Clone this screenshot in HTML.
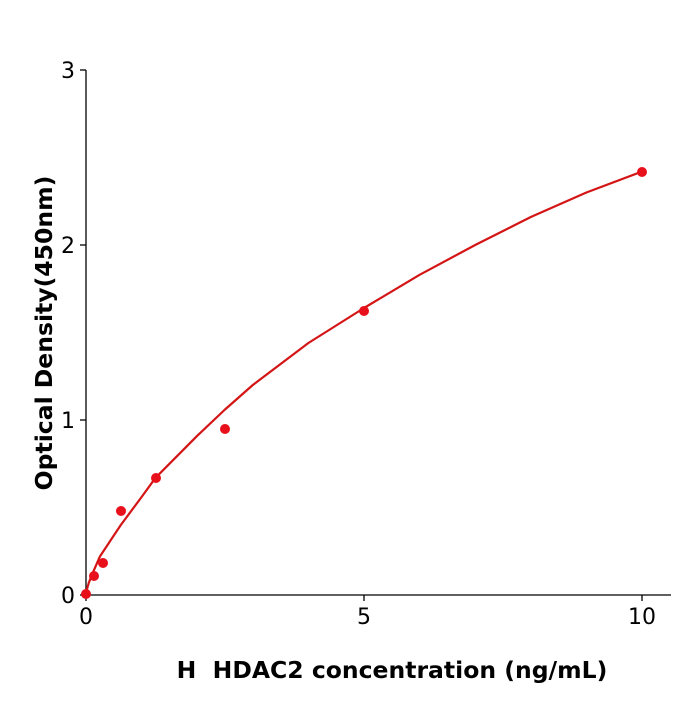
<!DOCTYPE html>
<html><head><style>body{margin:0;background:#fff}</style></head><body>
<svg width="700" height="700" xmlns="http://www.w3.org/2000/svg" font-family="'DejaVu Sans','Liberation Sans',sans-serif">
<rect width="700" height="700" fill="#fff"/>
<g stroke="#000" stroke-width="1.3" fill="none">
<line x1="86" y1="70" x2="86" y2="595"/>
<line x1="86" y1="595" x2="671" y2="595"/>
<line x1="80" y1="595" x2="86" y2="595"/>
<line x1="80" y1="420" x2="86" y2="420"/>
<line x1="80" y1="245" x2="86" y2="245"/>
<line x1="80" y1="70" x2="86" y2="70"/>
<line x1="86" y1="595" x2="86" y2="601"/>
<line x1="364" y1="595" x2="364" y2="601"/>
<line x1="642" y1="595" x2="642" y2="601"/>
</g>
<g font-size="22" fill="#000">
<text x="75" y="603" text-anchor="end">0</text>
<text x="75" y="428" text-anchor="end">1</text>
<text x="75" y="253" text-anchor="end">2</text>
<text x="75" y="78" text-anchor="end">3</text>
<text x="86" y="624" text-anchor="middle">0</text>
<text x="364" y="624" text-anchor="middle">5</text>
<text x="642" y="624" text-anchor="middle">10</text>
</g>
<text x="392" y="678" font-size="23.5" font-weight="bold" text-anchor="middle">H&#160; HDAC2 concentration (ng/mL)</text>
<text transform="translate(52,333) rotate(-90)" font-size="23.5" font-weight="bold" text-anchor="middle">Optical Density(450nm)</text>
<path d="M86,595 L87.3,588 L88.8,582.8 L93,572.3 L99.9,556.5 L113.8,535.5 L120.8,525 L141.6,497 L155.5,477.8 L169.4,463.8 L197.2,435.8 L225,409.5 L252.8,385 L308.4,343 L364,308 L419.6,274.8 L475.2,245 L530.8,217 L586.4,192.5 L642,171.5" stroke="#d41515" stroke-width="2.2" fill="none" stroke-linejoin="round"/>
<g fill="#e8101a">
<circle cx="86" cy="594" r="5"/>
<circle cx="94" cy="576" r="5"/>
<circle cx="103" cy="563" r="5"/>
<circle cx="121" cy="511" r="5"/>
<circle cx="156" cy="478" r="5"/>
<circle cx="225" cy="429" r="5"/>
<circle cx="364" cy="311" r="5"/>
<circle cx="642" cy="172" r="5"/>
</g>
</svg>
</body></html>
